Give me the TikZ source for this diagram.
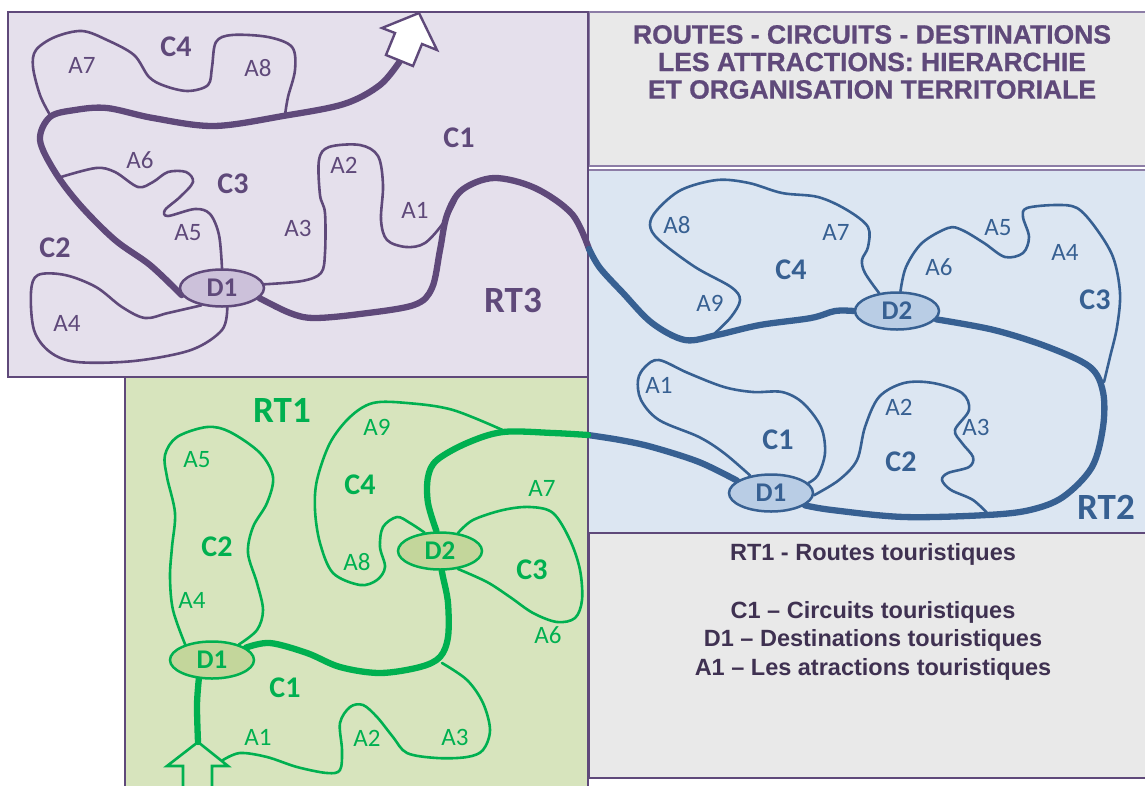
\documentclass[tikz,border=0pt]{standalone}
\usepackage{fontspec}
\setmainfont{Carlito}
\newfontfamily\arialf{Liberation Sans}
\newfontfamily\titlef{Liberation Sans Bold}[FakeBold=0.8]
\usetikzlibrary{shapes.geometric}
\definecolor{pline}{HTML}{5F497A}
\definecolor{pfill}{HTML}{E5E0EC}
\definecolor{pell}{HTML}{CCC1DA}
\definecolor{bline}{HTML}{376092}
\definecolor{bfill}{HTML}{DCE6F2}
\definecolor{bell}{HTML}{B9CDE5}
\definecolor{gline}{HTML}{00B050}
\definecolor{gfill}{HTML}{D7E4BD}
\definecolor{gell}{HTML}{C3D69B}
\definecolor{greyfill}{HTML}{E9E9E9}
\definecolor{softborder}{HTML}{8C7DA6}
\definecolor{legendtext}{HTML}{3F3151}
\pgfdeclarelayer{panels}
\pgfdeclarelayer{lines}
\pgfsetlayers{panels,lines,main}
\begin{document}
\begin{tikzpicture}[x=1pt,y=-1pt,
  thinline/.style={line width=2.6pt, line cap=round, line join=round},
  routeline/.style={line width=6.3pt, line cap=round, line join=round},
  ell/.style={ellipse, draw, line width=2.5pt, minimum width=84pt, minimum height=37pt, inner sep=0pt,
     font=\fontsize{27}{27}\selectfont\bfseries},
  alab/.style={font=\fontsize{25}{25}\selectfont, inner sep=0pt},
  clab/.style={font=\fontsize{30}{30}\selectfont\bfseries, inner sep=0pt},
  rtlab/.style={font=\fontsize{37}{37}\selectfont\bfseries, inner sep=0pt},
  panelborder/.style={line width=2.5pt}
]
\useasboundingbox (0,0) rectangle (1145,785);
\clip (0,0) rectangle (1145,785);

% ---------------- panels ----------------
\begin{pgfonlayer}{panels}
\fill[white] (0,0) rectangle (1145,785);
\filldraw[fill=greyfill, draw=softborder, line width=2pt] (589,12) rectangle (1152,166);
\fill[bfill] (589,170) rectangle (1152,532);
\draw[softborder, line width=2.5pt] (589,170) -- (1152,170);
\filldraw[fill=greyfill, draw=pline, panelborder] (589,533) rectangle (1152,778);
\filldraw[fill=gfill, draw=pline, panelborder] (125,377) rectangle (588,800);
\filldraw[fill=pfill, draw=pline, panelborder] (8,12) rectangle (588,377);
\end{pgfonlayer}

% ---------------- ellipses (destinations) ----------------
\node[ell, draw=pline, fill=pell, text=pline] (pD1) at (222,288) {D1};
\node[ell, draw=bline, fill=bell, text=bline] (bD2) at (897,311) {D2};
\node[ell, draw=bline, fill=bell, text=bline] (bD1) at (771,493) {D1};
\node[ell, draw=gline, fill=gell, text=gline] (gD1) at (212,660) {D1};
\node[ell, draw=gline, fill=gell, text=gline] (gD2) at (440,551) {D2};

\coordinate (pb) at (589,249);
\coordinate (gb) at (588,435);
\coordinate (parrow) at (400,61);
\coordinate (gtip) at (198,742);

\begin{pgfonlayer}{lines}
% ===== purple RT3 =====
\draw[routeline, pline] plot[smooth, tension=0.55] coordinates {(pD1.-15) (290,313) (314,318) (360,314) (414,305) (432,288) (440,250) (447,215) (462,190) (494,178) (535,188) (572,214) (pb)};
\draw[routeline, pline] plot[smooth, tension=0.55] coordinates {(pD1.190) (150,265) (115,240) (80,205) (55,172) (40,140) (50,117) (75,110) (107,108) (153,118) (214,126) (283,116) (344,104) (380,85) (parrow)};
% C4
\draw[thinline, pline] plot[smooth, tension=0.55] coordinates {(50,115) (40,95) (33,67) (36,50) (55,37) (82,31) (107,40) (134,55) (149,77) (165,86) (188,91) (208,85) (212,67) (216,42) (232,35) (268,37) (292,47) (295,70) (288,97) (285,115)};
% C3
\draw[thinline, pline] plot[smooth, tension=0.55] coordinates {(61,177) (96,168) (115,172) (138,187) (153,182) (168,172) (186,172) (193,182) (180,197) (165,210) (168,216) (195,209) (210,214) (219,235) (pD1.north)};
% C1
\draw[thinline, pline] plot[smooth, tension=0.55] coordinates {(pD1.5) (302,281) (321,273) (325,253) (325,213) (320,195) (319,160) (329,147) (360,145) (378,156) (383,185) (381,220) (387,240) (406,247) (425,243) (444,222) (456,200)};
% C2
\draw[thinline, pline] plot[smooth, tension=0.55] coordinates {(pD1.-140) (168,313) (145,318) (122,307) (96,287) (65,275) (38,275) (31,292) (34,330) (50,352) (77,362) (134,361) (191,350) (222,330) (pD1.-75)};
% arrow (exit)
\filldraw[fill=white, draw=pline, line width=2.4pt, line join=miter] (419,13) -- (437,50) -- (422,44) -- (413,66) -- (386,55) -- (395,33) -- (382,28) -- cycle;

% ===== blue RT2 =====
\draw[routeline, bline] plot[smooth, tension=0.55] coordinates {(pb) (600,268) (623,293) (652,323) (685,340) (717,335) (760,325) (811,318) (835,311) (bD2.west)};
\draw[routeline, bline] plot[smooth, tension=0.55] coordinates {(bD2.-12) (994,330) (1048,347) (1090,367) (1103,392) (1103,427) (1092,467) (1063,497) (1030,510) (987,515) (904,517) (832,510) (bD1.-20)};
\draw[routeline, bline] plot[smooth, tension=0.55] coordinates {(gb) (620,440) (652,447) (699,462) (bD1.160)};
% C4
\draw[thinline, bline] plot[smooth, tension=0.55] coordinates {(713,335) (731,317) (740,300) (731,287) (695,267) (659,240) (650,225) (657,210) (681,190) (717,180) (749,183) (782,193) (818,197) (847,210) (868,227) (868,247) (862,260) (865,273) (bD2.135)};
% C3
\draw[thinline, bline] plot[smooth, tension=0.55] coordinates {(bD2.80) (906,267) (922,243) (948,228) (962,230) (984,243) (1005,257) (1023,253) (1029,237) (1023,217) (1027,208) (1056,205) (1077,208) (1095,227) (1113,257) (1120,293) (1117,327) (1110,357) (1104,382)};
% C1
\draw[thinline, bline] plot[smooth, tension=0.55] coordinates {(bD1.140) (724,453) (699,437) (659,420) (641,400) (638,380) (645,367) (659,360) (688,373) (724,387) (753,392) (782,392) (803,403) (821,427) (825,453) (818,475) (bD1.15)};
% C2
\draw[thinline, bline] plot[smooth, tension=0.55] coordinates {(bD1.-3) (839,480) (857,460) (865,427) (879,397) (904,383) (933,383) (962,393) (969,410) (955,430) (962,443) (973,457) (969,467) (948,473) (942,480) (951,490) (973,500) (989,515)};

% ===== green RT1 =====
\draw[routeline, gline] plot[smooth, tension=0.55] coordinates {(gtip) (197,705) (gD1.-125)};
\draw[routeline, gline] plot[smooth, tension=0.55] coordinates {(gD1.20) (270,643) (307,653) (340,667) (380,673) (420,667) (440,657) (448,637) (448,603) (443,577) (gD2.-85)};
\draw[routeline, gline] plot[smooth, tension=0.55] coordinates {(gD2.100) (428,503) (428,477) (437,460) (467,443) (503,432) (553,433) (gb)};
% C2
\draw[thinline, gline] plot[smooth, tension=0.55] coordinates {(gD1.150) (173,610) (170,577) (172,547) (175,513) (167,477) (165,455) (177,437) (207,427) (230,432) (260,453) (273,477) (267,503) (253,527) (248,553) (257,583) (263,610) (257,630) (gD1.30)};
% C4
\draw[thinline, gline] plot[smooth, tension=0.55] coordinates {(507,432) (453,410) (407,403) (373,403) (350,417) (330,443) (317,480) (315,510) (320,543) (333,573) (360,585) (377,580) (385,567) (380,547) (383,527) (397,517) (410,523) (gD2.130)};
% C3
\draw[thinline, gline] plot[smooth, tension=0.55] coordinates {(gD2.45) (473,520) (503,510) (530,507) (553,513) (570,540) (580,570) (582,600) (575,618) (557,622) (533,613) (510,597) (487,582) (gD2.-45)};
% C1
\draw[thinline, gline] plot[smooth, tension=0.55] coordinates {(442,663) (467,680) (483,703) (490,730) (483,750) (467,757) (437,758) (407,753) (393,737) (377,717) (363,705) (350,707) (340,723) (342,750) (340,770) (327,773) (297,767) (267,757) (240,753) (223,760)};
% entry arrow
\draw[gline, line width=2.6pt, line join=miter] (183,795) -- (183,766) -- (167,766) -- (gtip) -- (228,766) -- (212,766) -- (212,795);
\end{pgfonlayer}

% ---------------- labels purple ----------------
\begin{scope}[text=pline]
\node[alab] (pA7) at (82,65) {A7};
\node[clab] (pC4) at (176,47) {C4};
\node[alab] (pA8) at (258,68) {A8};
\node[clab] (pC1) at (459,138) {C1};
\node[alab] (pA6) at (140,160) {A6};
\node[clab] (pC3) at (233,184) {C3};
\node[alab] (pA2) at (344,165) {A2};
\node[alab] (pA1) at (415,210) {A1};
\node[alab] (pA5) at (188,233) {A5};
\node[alab] (pA3) at (298,228) {A3};
\node[clab] (pC2) at (55,248) {C2};
\node[alab] (pA4) at (67,323) {A4};
\node[rtlab] (pRT3) at (513,300) {RT3};
\end{scope}

% ---------------- labels blue ----------------
\begin{scope}[text=bline]
\node[alab] (bA8) at (677,225) {A8};
\node[alab] (bA7) at (836,232) {A7};
\node[clab] (bC4) at (791,270) {C4};
\node[alab] (bA9) at (710,303) {A9};
\node[alab] (bA5) at (998,228) {A5};
\node[alab] (bA6) at (939,267) {A6};
\node[alab] (bA4) at (1065,252) {A4};
\node[clab] (bC3) at (1095,300) {C3};
\node[alab] (bA1) at (659,385) {A1};
\node[clab] (bC1) at (778,440) {C1};
\node[alab] (bA2) at (899,407) {A2};
\node[alab] (bA3) at (976,427) {A3};
\node[clab] (bC2) at (901,462) {C2};
\node[rtlab] (bRT2) at (1106,507) {RT2};
\end{scope}

% ---------------- labels green ----------------
\begin{scope}[text=gline]
\node[rtlab] (gRT1) at (282,410) {RT1};
\node[alab] (gA5) at (197,460) {A5};
\node[clab] (gC2) at (217,547) {C2};
\node[alab] (gA4) at (192,600) {A4};
\node[alab] (gA9) at (377,427) {A9};
\node[clab] (gC4) at (360,485) {C4};
\node[alab] (gA8) at (357,562) {A8};
\node[alab] (gA7) at (542,488) {A7};
\node[clab] (gC3) at (532,570) {C3};
\node[alab] (gA6) at (548,635) {A6};
\node[clab] (gC1) at (285,688) {C1};
\node[alab] (gA1) at (258,737) {A1};
\node[alab] (gA2) at (367,738) {A2};
\node[alab] (gA3) at (455,737) {A3};
\end{scope}

% ---------------- title & legend ----------------
\node[text=pline, align=center, inner sep=0pt, font=\titlef\fontsize{26.5}{27.5}\selectfont] (title) at (872,62)
  {ROUTES - CIRCUITS - DESTINATIONS\\LES ATTRACTIONS: HIERARCHIE\\ET ORGANISATION TERRITORIALE};
\node[text=legendtext, align=center, inner sep=0pt, font=\arialf\bfseries\fontsize{23.5}{28.7}\selectfont] (legend) at (873,612)
  {RT1 - Routes touristiques\\[28.7pt]C1 – Circuits touristiques\\D1 – Destinations touristiques\\A1 – Les atractions touristiques};
\end{tikzpicture}
\end{document}
